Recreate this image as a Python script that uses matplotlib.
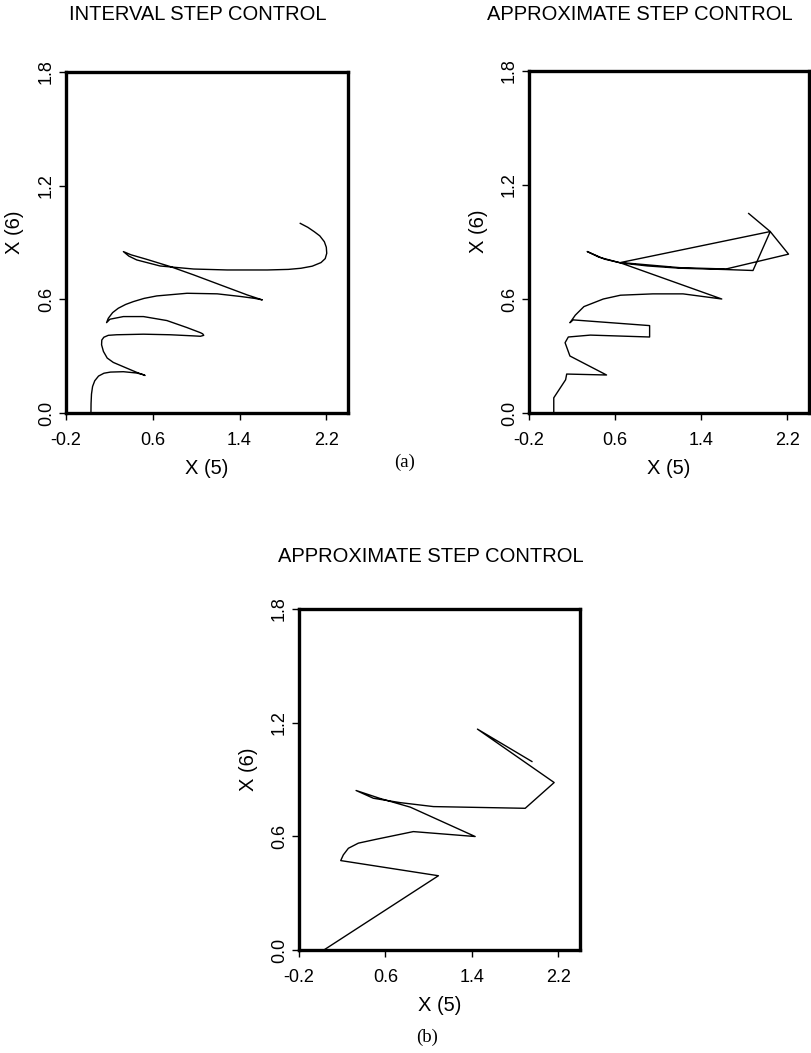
import matplotlib
matplotlib.use("Agg")
import matplotlib.pyplot as plt

# --- data (X(5) horizontal, X(6) vertical) ---
interval_x5 = [0.03, 0.031, 0.035, 0.045, 0.065, 0.10, 0.15, 0.21, 0.329, 0.452, 0.51, 0.529,
               0.45, 0.359, 0.236, 0.18, 0.145, 0.128, 0.13, 0.149, 0.19, 0.267, 0.514, 0.761,
               0.977, 1.04, 1.07, 1.06, 1.039,
               0.915, 0.730, 0.514, 0.329, 0.205, 0.174,
               0.19, 0.23, 0.282, 0.35, 0.421, 0.52, 0.637, 0.916, 1.194, 1.410, 1.54, 1.610,
               1.472, 1.224, 0.977, 0.761, 0.545, 0.40, 0.329,
               0.38, 0.452, 0.668, 0.977, 1.286, 1.657, 1.85, 1.966, 2.07, 2.151, 2.19, 2.204,
               2.20, 2.182, 2.14, 2.089, 2.03, 1.960]
interval_x6 = [0.0, 0.05, 0.10, 0.14, 0.17, 0.195, 0.21, 0.216, 0.218, 0.211, 0.203, 0.198,
               0.215, 0.237, 0.267, 0.29, 0.325, 0.36, 0.385, 0.400, 0.41, 0.413, 0.416, 0.413,
               0.407, 0.405, 0.41, 0.418, 0.424,
               0.451, 0.488, 0.509, 0.509, 0.495, 0.477,
               0.50, 0.53, 0.553, 0.573, 0.588, 0.605, 0.618, 0.632, 0.629, 0.615, 0.605, 0.597,
               0.623, 0.676, 0.729, 0.773, 0.811, 0.835, 0.852,
               0.828, 0.808, 0.776, 0.760, 0.755, 0.755, 0.758, 0.764, 0.775, 0.794, 0.815, 0.843,
               0.875, 0.904, 0.935, 0.957, 0.98, 1.001]

approx_a_x5 = [0.03, 0.03, 0.14, 0.15, 0.52, 0.18, 0.135, 0.165, 0.37, 0.92, 0.92,
               0.21, 0.18, 0.23, 0.31, 0.49, 0.65, 0.95, 1.23, 1.59,
               0.65, 0.45, 0.34, 0.50, 0.65, 0.90, 1.20, 1.63, 1.88,
               2.04, 2.21, 1.63, 1.20, 0.65, 2.04, 1.84]
approx_a_x6 = [0.0, 0.08, 0.175, 0.205, 0.20, 0.30, 0.37, 0.40, 0.41, 0.40, 0.46,
               0.49, 0.475, 0.515, 0.56, 0.60, 0.62, 0.627, 0.627, 0.60,
               0.79, 0.82, 0.85, 0.81, 0.79, 0.774, 0.762, 0.755, 0.75,
               0.955, 0.836, 0.758, 0.765, 0.792, 0.955, 1.05]

approx_b_x5 = [0.03, 1.09, 0.186, 0.21, 0.257, 0.349, 0.519, 0.858, 1.43,
               0.83, 0.55, 0.328, 0.488, 0.735, 1.044, 1.893, 2.161, 1.451, 1.955]
approx_b_x6 = [0.0, 0.392, 0.472, 0.502, 0.537, 0.564, 0.585, 0.625, 0.599,
               0.754, 0.80, 0.842, 0.801, 0.778, 0.757, 0.748, 0.884, 1.166, 0.995]

x_ticks = [-0.2, 0.6, 1.4, 2.2]
y_ticks = [0.0, 0.6, 1.2, 1.8]

plt.rcParams['font.family'] = ['Liberation Sans', 'DejaVu Sans']

fig = plt.figure(figsize=(8.11, 10.53), dpi=100)
W, H = 811, 1053


def panel(left, top, right, bottom, xs, ys, lw):
    ax = fig.add_axes([left / W, 1 - bottom / H, (right - left) / W, (bottom - top) / H])
    ax.plot(xs, ys, color='black', lw=lw, solid_joinstyle='round')
    ax.set_xlim(-0.2, 2.4)
    ax.set_ylim(0.0, 1.8)
    ax.set_xticks(x_ticks)
    ax.set_xticklabels([f"{v:.1f}" for v in x_ticks])
    ax.set_yticks(y_ticks)
    ax.set_yticklabels([f"{v:.1f}" for v in y_ticks], rotation=90, va='center')
    for s in ax.spines.values():
        s.set_linewidth(2.4)
    ax.tick_params(direction='out', length=5, width=1.0, labelsize=13)
    ax.tick_params(axis='x', pad=9)
    ax.tick_params(axis='y', pad=3)
    ax.set_xlabel('X (5)', fontsize=14.5, labelpad=7)
    ax.set_ylabel('X (6)', fontsize=14.5, va='center')
    ax.yaxis.set_label_coords(-51 / (right - left), 0.53)
    return ax


panel(66, 72, 348, 413, interval_x5, interval_x6, 1.0)
panel(529, 71, 809, 413, approx_a_x5, approx_a_x6, 1.0)
panel(299, 609, 580, 950, approx_b_x5, approx_b_x6, 1.0)

fig.text(198 / W, 1 - 15 / H, 'INTERVAL STEP CONTROL', fontsize=14.5, ha='center', va='center')
fig.text(640 / W, 1 - 15 / H, 'APPROXIMATE STEP CONTROL', fontsize=14.5, ha='center', va='center')
fig.text(431 / W, 1 - 557 / H, 'APPROXIMATE STEP CONTROL', fontsize=14.5, ha='center', va='center')
fig.text(405 / W, 1 - 462 / H, '(a)', fontsize=13.5, ha='center', va='center', family='Liberation Serif')
fig.text(427 / W, 1 - 1037 / H, '(b)', fontsize=13.5, ha='center', va='center', family='Liberation Serif')

fig.savefig('out.png', dpi=100)
